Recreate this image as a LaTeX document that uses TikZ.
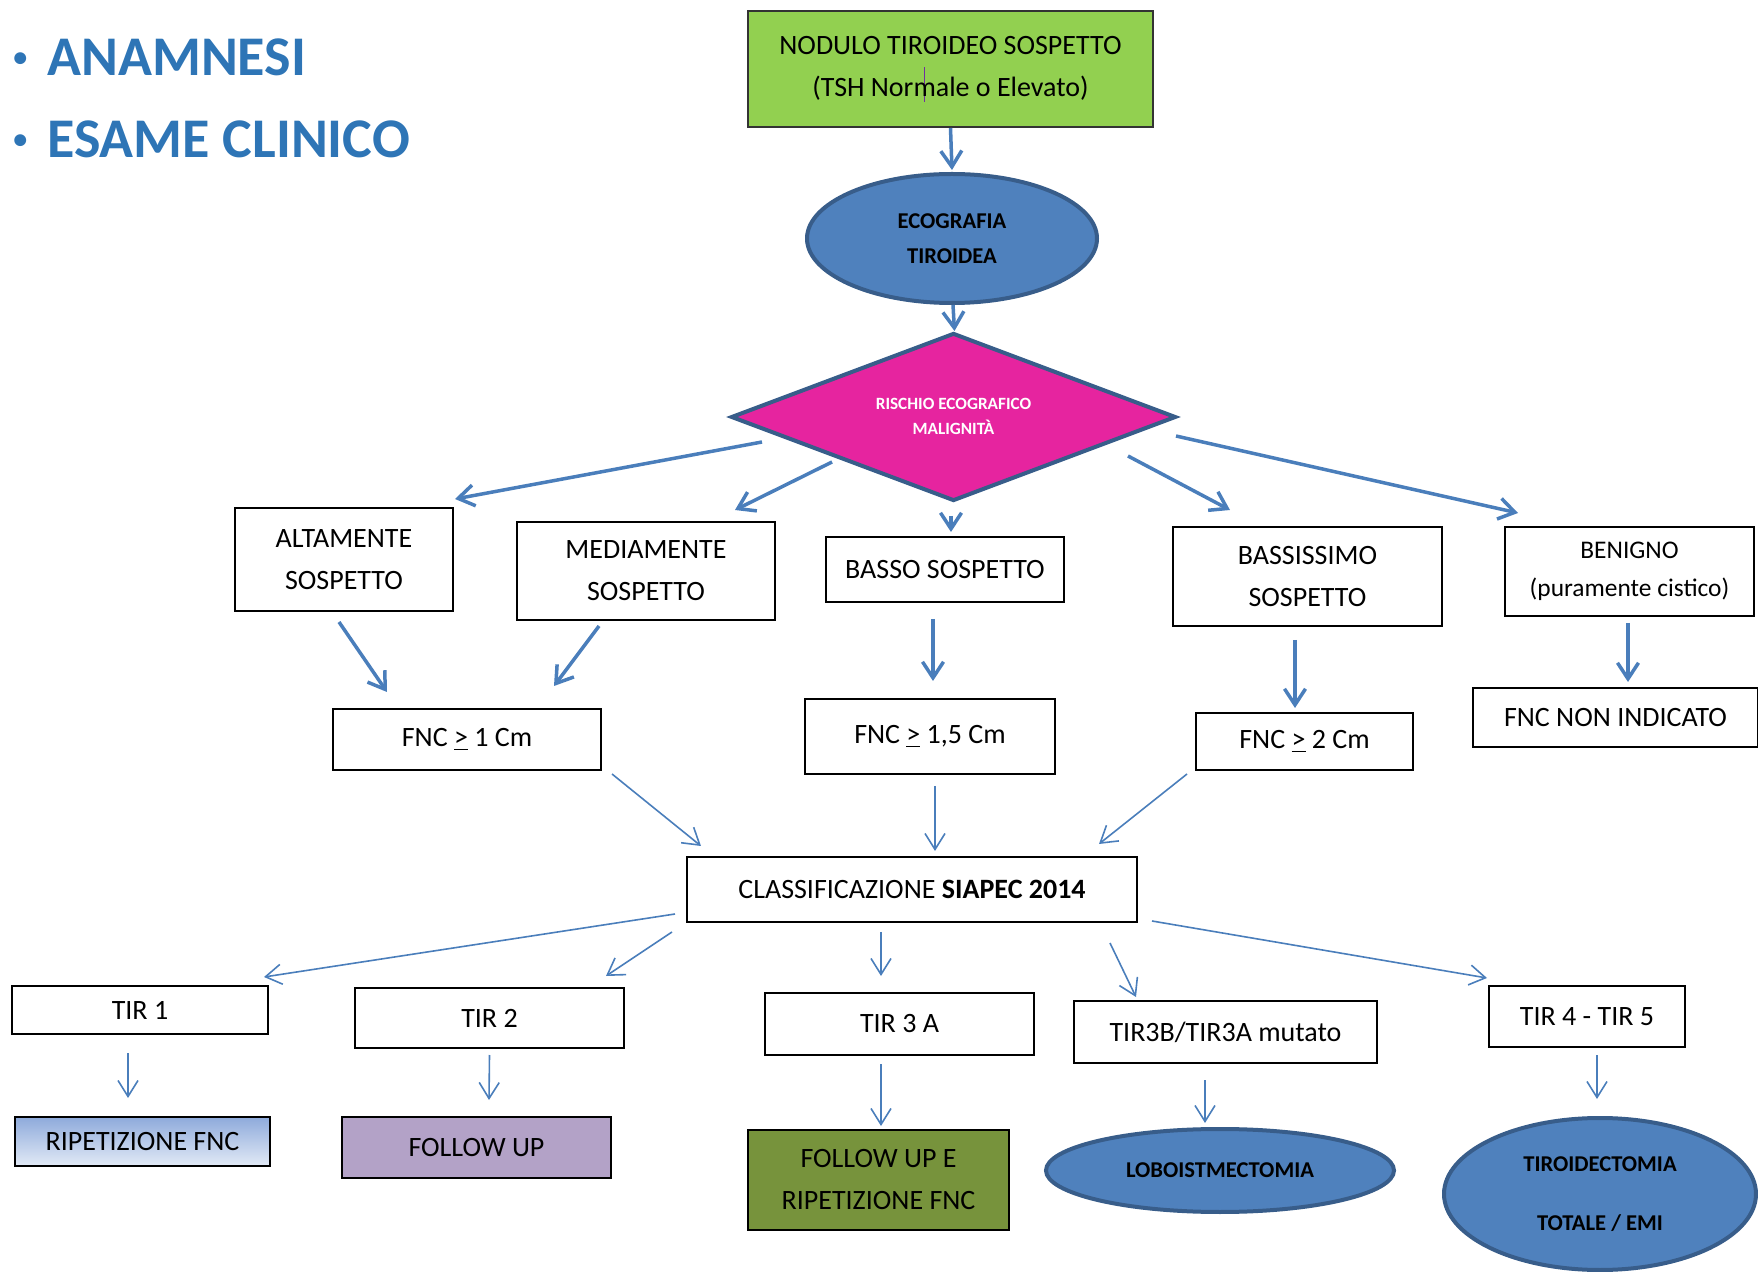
\documentclass[tikz,border=0pt]{standalone}
\usepackage{fontspec}
\setmainfont{Carlito}
\usetikzlibrary{
  shapes.geometric, % Shapes "ellipse", "diamond"
  arrows.meta,      % Tip "Straight Barb"
}
\definecolor{titleblue}{HTML}{2E75B6}
\definecolor{arrowblue}{HTML}{4A7EBB}
\definecolor{ovalfill}{HTML}{4F81BD}
\definecolor{ovaldraw}{HTML}{385D8A}
\definecolor{limegreen}{HTML}{92D050}
\definecolor{riskpink}{HTML}{E6249F}
\definecolor{lilac}{HTML}{B3A2C7}
\definecolor{olivegreen}{HTML}{77933C}
\definecolor{topblue}{HTML}{8EAADB}
\definecolor{paleblue}{HTML}{E2EAF6}
\definecolor{cursor}{HTML}{7030A0}
\newcommand{\ug}{\underline{>}}
\newcommand{\bul}{\raisebox{4.6pt}{\fontsize{14}{14}\selectfont\textbullet}\hspace{10pt}}
\tikzset{
  font=\fontsize{14}{21}\selectfont,
  my box/.style={
    draw,
    line width=1pt,
    inner sep=0pt,
    align=center,
    rectangle
  },
  my oval/.style={
    ellipse,
    draw=ovaldraw,
    fill=ovalfill,
    line width=2pt,
    inner sep=0pt,
    align=center,
    font=\bfseries\fontsize{11.3}{17.5}\selectfont
  },
  my title/.style={
    anchor=base west,
    inner sep=0pt,
    text=titleblue,
    font=\bfseries\fontsize{28}{34}\selectfont
  },
  big arrow/.style={
    draw=arrowblue,
    line width=1.75pt,
    -{Straight Barb[length=8pt,width=10.5pt]}
  },
  thin arrow/.style={
    draw=arrowblue,
    line width=0.8pt,
    -{Straight Barb[length=8pt,width=10pt]}
  }
}

\begin{document}
\begin{tikzpicture}[x=0.5pt,y=-0.5pt]
\useasboundingbox (0,0) rectangle (1758,1272);
% title
\node[my title] (anam)  at (13,76)  {\bul ANAMNESI};
\node[my title] (esame) at (13,158) {\bul ESAME CLINICO};
% top
\node[my box,fill=limegreen,draw=black!80,minimum width=202.5pt,minimum height=58pt] (nodulo) at (950.5,69)
  {NODULO TIROIDEO SOSPETTO\\(TSH Nor\rlap{\hspace{0.36em}\textcolor{cursor}{\rule[-0.4ex]{0.6pt}{2.6ex}}}male o Elevato)};
\node[my oval,minimum width=145pt,minimum height=64.5pt] (eco) at (952,238.5) {ECOGRAFIA\\TIROIDEA};
\node[diamond,aspect=2.65,draw=ovaldraw,fill=riskpink,line width=2pt,inner sep=0pt,
      minimum width=222.5pt,minimum height=84pt,text=white,
      font=\bfseries\fontsize{8.6}{12.5}\selectfont] (rischio) at (953.5,417)
  {\raisebox{2.8pt}{\begin{tabular}{@{}c@{}}RISCHIO ECOGRAFICO\\MALIGNITÀ\end{tabular}}};
% risk classes
\node[my box,minimum width=109pt,minimum height=51.5pt]   (alta)    at (344,559.5)    {ALTAMENTE\\SOSPETTO};
\node[my box,minimum width=129pt,minimum height=49pt]     (media)   at (646,571)      {MEDIAMENTE\\SOSPETTO};
\node[my box,minimum width=119pt,minimum height=32.5pt]   (basso)   at (945,569.5)    {BASSO SOSPETTO};
\node[my box,minimum width=134.5pt,minimum height=49.5pt] (bassiss) at (1307.5,576.5)  {BASSISSIMO\\SOSPETTO};
\node[my box,minimum width=124.5pt,minimum height=44.5pt,font=\fontsize{12.7}{19}\selectfont]
                                                          (benigno) at (1629.5,571.5)  {BENIGNO\\(puramente cistico)};
% FNC
\node[my box,minimum width=134pt,minimum height=30.5pt]   (fnc1)    at (467,739.5)    {FNC \ug{} 1 Cm};
\node[my box,minimum width=125pt,minimum height=37.5pt]   (fnc15)   at (930,736.5)    {FNC \ug{} 1,5 Cm};
\node[my box,minimum width=108.5pt,minimum height=28.5pt] (fnc2)    at (1304.5,741.5) {FNC \ug{} 2 Cm};
\node[my box,minimum width=142.5pt,minimum height=29.5pt] (nonind)  at (1615.5,717.5) {FNC NON INDICATO};
\node[my box,minimum width=225pt,minimum height=32.5pt]   (class)   at (912,889.5)    {CLASSIFICAZIONE \textbf{SIAPEC 2014}};
% TIR
\node[my box,minimum width=128pt,minimum height=24pt]     (tir1)    at (140,1010)     {TIR 1};
\node[my box,minimum width=134.5pt,minimum height=30pt]   (tir2)    at (489.5,1018)   {TIR 2};
\node[my box,minimum width=134.5pt,minimum height=31pt]   (tir3a)   at (899.5,1024)   {TIR 3 A};
\node[my box,minimum width=151.5pt,minimum height=31pt]   (tir3b)   at (1225.5,1032)  {TIR3B/TIR3A mutato};
\node[my box,minimum width=98pt,minimum height=30.5pt]    (tir45)   at (1587,1016.5)  {TIR 4 - TIR 5};
% outcomes
\node[my box,top color=topblue,bottom color=paleblue,minimum width=127.5pt,minimum height=24.5pt]
                                                          (ripfnc)  at (142.5,1141.5) {RIPETIZIONE FNC};
\node[my box,fill=lilac,minimum width=134.5pt,minimum height=30.5pt] (fu) at (476.5,1147.5) {FOLLOW UP};
\node[my box,fill=olivegreen,minimum width=130.5pt,minimum height=50pt] (fue) at (878.5,1180) {FOLLOW UP E\\RIPETIZIONE FNC};
\node[my oval,minimum width=174pt,minimum height=41.5pt]  (lobo)    at (1220,1170.5)  {LOBOISTMECTOMIA};
\node[my oval,minimum width=156pt,minimum height=76pt,font=\bfseries\fontsize{11.3}{29.5}\selectfont]
                                                          (tiro)    at (1600,1194)    {TIROIDECTOMIA\\TOTALE / EMI};
% upper arrows
\draw[big arrow] (nodulo.south) -- ([shift={(0,-2)}]eco.north);
\draw[big arrow] ([shift={(1,0)}]eco.south) -- ([shift={(1,0)}]rischio.north);
\draw[big arrow] ([shift={(33,25)}]rischio.west)    -- ([shift={(1,-8)}]alta.north east);
\draw[big arrow] ([shift={(103,45)}]rischio.west)   -- ([shift={(-41,-11)}]media.north east);
\draw[big arrow] ([shift={(-2.5,13)}]rischio.south) -- ([shift={(6,-4)}]basso.north);
\draw[big arrow] ([shift={(-50,39)}]rischio.east)   -- ([shift={(-77.5,-16)}]bassiss.north);
\draw[big arrow] ([shift={(-2,19)}]rischio.east)    -- ([shift={(14,-13)}]benigno.north west);
\draw[big arrow] ([shift={(-5,10)}]alta.south)      -- ([shift={(-80,-16)}]fnc1.north);
\draw[big arrow] ([shift={(-47,5)}]media.south)     -- ([shift={(87,-22)}]fnc1.north);
\draw[big arrow] ([shift={(-12,16)}]basso.south)    -- ([shift={(3,-17)}]fnc15.north);
\draw[big arrow] ([shift={(-12.5,13)}]bassiss.south) -- ([shift={(-9.5,-4)}]fnc2.north);
\draw[big arrow] ([shift={(-1.5,6)}]benigno.south)  -- ([shift={(12.5,-5)}]nonind.north);
% lower arrows
\draw[thin arrow] ([shift={(10,3)}]fnc1.south east)  -- ([shift={(15,-10)}]class.north west);
\draw[thin arrow] ([shift={(5,11)}]fnc15.south)      -- ([shift={(23,-5)}]class.north);
\draw[thin arrow] ([shift={(-8,3)}]fnc2.south west)  -- ([shift={(-39,-12)}]class.north east);
\draw[thin arrow] ([shift={(-11,24.5)}]class.west)   -- ([shift={(-5,-8)}]tir1.north east);
\draw[thin arrow] ([shift={(-14,9)}]class.south west) -- ([shift={(-19,-11)}]tir2.north east);
\draw[thin arrow] ([shift={(-31,9)}]class.south)     -- ([shift={(-18.5,-16)}]tir3a.north);
\draw[thin arrow] ([shift={(-28,20)}]class.south east) -- ([shift={(63,-3)}]tir3b.north west);
\draw[thin arrow] ([shift={(14,-2)}]class.south east) -- ([shift={(-1,-7)}]tir45.north west);
\draw[thin arrow] ([shift={(-12,18)}]tir1.south)     -- ([shift={(-14.5,-18)}]ripfnc.north);
\draw[thin arrow] ([shift={(0,6)}]tir2.south)        -- ([shift={(12.5,-16)}]fu.north);
\draw[thin arrow] ([shift={(-18.5,8)}]tir3a.south)   -- ([shift={(2.5,-3)}]fue.north);
\draw[thin arrow] ([shift={(-20.5,16)}]tir3b.south)  -- ([shift={(-15,-4)}]lobo.north);
\draw[thin arrow] ([shift={(10,7)}]tir45.south)      -- ([shift={(-3,-17)}]tiro.north);
\end{tikzpicture}
\end{document}
